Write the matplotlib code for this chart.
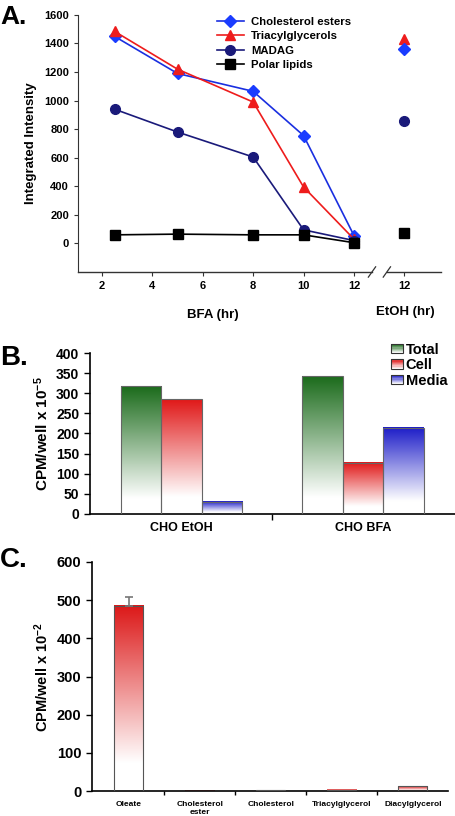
import numpy as np
import matplotlib
matplotlib.use("Agg")
import matplotlib.pyplot as plt
from matplotlib.patches import Rectangle
from matplotlib.legend_handler import HandlerBase
from matplotlib.colors import to_rgb

plt.rcParams['font.family'] = ['Liberation Sans', 'DejaVu Sans']
plt.rcParams['font.weight'] = 'bold'
plt.rcParams['mathtext.fontset'] = 'custom'
plt.rcParams['mathtext.bf'] = 'Liberation Sans:bold'
plt.rcParams['mathtext.rm'] = 'Liberation Sans:bold'
plt.rcParams['mathtext.default'] = 'bf'

# ---------------- Data ----------------
# Panel A
bfa_hours = [2.5, 5, 8, 10, 12]
etoh_hour_pos = 14          # plotted position of the EtOH 12 hr point (after axis break)
chol_esters = [1450, 1190, 1065, 755, 55]
triacylglycerols = [1485, 1220, 990, 395, 30]
madag = [940, 780, 605, 95, 20]
polar_lipids = [60, 65, 60, 60, 5]
etoh_chol_esters = 1360
etoh_triacylglycerols = 1430
etoh_madag = 860
etoh_polar_lipids = 70
a_xticks = [2, 4, 6, 8, 10, 12, 14]
a_xticklabels = ['2', '4', '6', '8', '10', '12', '12']

# Panel B
b_categories = ['CHO EtOH', 'CHO BFA']
b_total = [317, 342]
b_cell = [285, 127]
b_media = [31, 214]

# Panel C
c_categories = ['Oleate', 'Cholesterol\nester', 'Cholesterol', 'Triacylglycerol', 'Diacylglycerol']
c_values = [485, 0.5, 2, 4, 12]
c_err_up = [23, 0, 0, 0, 0]

fig = plt.figure(figsize=(4.56, 8.16), dpi=100)


def gradient_bar(ax, x0, w, h, color, white_frac=0.15, edge='#666666', lw=0.8):
    c = np.array(to_rgb(color))
    n = 256
    t = np.linspace(0, 1, n)
    f = np.clip((t - white_frac) / (1 - white_frac), 0, 1)
    img = (1 - f)[:, None, None] * np.ones(3) + f[:, None, None] * c
    img = np.repeat(img, 2, axis=1)
    ax.imshow(img, extent=[x0, x0 + w, 0, h], origin='lower', aspect='auto',
              interpolation='bilinear', zorder=2)
    ax.add_patch(Rectangle((x0, 0), w, h, fill=False, edgecolor=edge, lw=lw, zorder=3))


class GradHandler(HandlerBase):
    def __init__(self, color):
        super().__init__()
        self.color = np.array(to_rgb(color))

    def create_artists(self, legend, orig_handle, xdescent, ydescent, width, height, fontsize, trans):
        arts = []
        n = 8
        for i in range(n):
            f = i / (n - 1)
            col = (1 - f) * np.ones(3) + f * self.color
            r = Rectangle((-xdescent, -ydescent + height * i / n), width, height / n,
                          facecolor=col, edgecolor='none', transform=trans)
            arts.append(r)
        arts.append(Rectangle((-xdescent, -ydescent), width, height, fill=False,
                              edgecolor='#333333', lw=0.8, transform=trans))
        return arts


# ---------------- Panel A ----------------
axA = fig.add_axes([0.171, 0.6667, 0.796, 0.315])
ce_col = '#1a2fe0'
tg_col = '#ee1c1c'
md_col = '#1a1a7a'
pl_col = '#000000'
axA.plot(bfa_hours, chol_esters, color=ce_col, marker='D', ms=6.5, lw=1.2,
         markerfacecolor='#1a3cff', markeredgecolor='#1a3cff', label='Cholesterol esters', zorder=4)
axA.plot(bfa_hours, triacylglycerols, color=tg_col, marker='^', ms=7.5, lw=1.2,
         label='Triacylglycerols', zorder=4)
axA.plot(bfa_hours, madag, color=md_col, marker='o', ms=7, lw=1.2, label='MADAG', zorder=4)
axA.plot(bfa_hours, polar_lipids, color=pl_col, marker='s', ms=6.5, lw=1.2, label='Polar lipids', zorder=4)
axA.plot([etoh_hour_pos], [etoh_triacylglycerols], color=tg_col, marker='^', ms=7.5, ls='none')
axA.plot([etoh_hour_pos], [etoh_chol_esters], color='#1a3cff', marker='D', ms=6.5, ls='none')
axA.plot([etoh_hour_pos], [etoh_madag], color=md_col, marker='o', ms=7, ls='none')
axA.plot([etoh_hour_pos], [etoh_polar_lipids], color=pl_col, marker='s', ms=6.5, ls='none')

axA.set_xlim(1.05, 15.45)
axA.set_ylim(-200, 1600)
axA.set_yticks(np.arange(0, 1601, 200))
axA.set_xticks(a_xticks)
axA.set_xticklabels(a_xticklabels)
axA.tick_params(axis='both', labelsize=8, length=3, width=0.8, color='#333333')
for lab in axA.get_xticklabels() + axA.get_yticklabels():
    lab.set_fontweight('bold')
axA.spines['top'].set_visible(False)
axA.spines['right'].set_visible(False)
axA.spines['bottom'].set_visible(False)
axA.spines['left'].set_color('#333333')
# broken bottom axis
b1, b2 = 0.81, 0.851
axA.plot([0, b1], [0, 0], transform=axA.transAxes, color='#333333', lw=1, clip_on=False)
axA.plot([b2, 1.0], [0, 0], transform=axA.transAxes, color='#333333', lw=1, clip_on=False)
dx, dy = 0.01, 0.02
for b in (b1, b2):
    axA.plot([b - dx, b + dx], [-dy, dy], transform=axA.transAxes, color='#333333', lw=0.9, clip_on=False)
axA.set_ylabel('Integrated Intensity', fontsize=9.5, fontweight='bold', labelpad=5)
axA.legend(loc='upper left', bbox_to_anchor=(0.37, 1.01), frameon=False, fontsize=8.2,
           handlelength=2.4, labelspacing=0.38, handletextpad=0.6, borderaxespad=0)

fig.text(0.467, 1 - 315 / 816, 'BFA (hr)', ha='center', va='center', fontsize=9.5, fontweight='bold')
fig.text(0.888, 1 - 312 / 816, 'EtOH (hr)', ha='center', va='center', fontsize=9.5, fontweight='bold')
fig.text(0.0, 1 - 17 / 816, 'A.', ha='left', va='center', fontsize=19, fontweight='bold')

# ---------------- Panel B ----------------
axB = fig.add_axes([0.197, 0.3701, 0.80, 0.1973])
bw = 0.223
cols_B = ['#1b6b1b', '#e01818', '#1c1cc8']
for i in range(len(b_categories)):
    gradient_bar(axB, i - 1.5 * bw, bw, b_total[i], cols_B[0], white_frac=0.12)
    gradient_bar(axB, i - 0.5 * bw, bw, b_cell[i], cols_B[1], white_frac=0.15)
    gradient_bar(axB, i + 0.5 * bw, bw, b_media[i], cols_B[2], white_frac=0.15)
axB.set_xlim(-0.505, 1.505)
axB.set_ylim(0, 400)
axB.set_yticks(np.arange(0, 401, 50))
axB.set_xticks(range(len(b_categories)))
axB.set_xticklabels(b_categories)
axB.set_xticks([0.5], minor=True)
axB.tick_params(axis='x', which='major', length=0, labelsize=9, pad=6)
axB.tick_params(axis='x', which='minor', length=4, width=1)
axB.tick_params(axis='y', labelsize=10, length=4, width=1)
for lab in axB.get_xticklabels() + axB.get_yticklabels():
    lab.set_fontweight('bold')
axB.spines['top'].set_visible(False)
axB.spines['right'].set_visible(False)
axB.spines['left'].set_linewidth(1.2)
axB.spines['bottom'].set_linewidth(1.2)
axB.set_ylabel(r'CPM/well x 10$^{-5}$', fontsize=11, fontweight='bold', labelpad=4)
handles = [Rectangle((0, 0), 1, 1) for _ in range(3)]
axB.legend(handles, ['Total', 'Cell', 'Media'], loc='upper left', bbox_to_anchor=(0.81, 1.1),
           frameon=False, fontsize=10.5, handlelength=0.8, handleheight=0.65, handletextpad=0.2,
           labelspacing=0.1, borderaxespad=0,
           handler_map={handles[0]: GradHandler(cols_B[0]), handles[1]: GradHandler(cols_B[1]),
                        handles[2]: GradHandler(cols_B[2])})
fig.text(0.0, 1 - 358 / 816, 'B.', ha='left', va='center', fontsize=20, fontweight='bold')

# ---------------- Panel C ----------------
axC = fig.add_axes([0.2018, 0.0306, 0.780, 0.2807])
cw = 0.41
for i, v in enumerate(c_values):
    gradient_bar(axC, i - cw / 2, cw, v, '#dc1818', white_frac=0.15, edge='#555555')
axC.errorbar([0], [c_values[0]], yerr=[[0], [c_err_up[0]]], fmt='none', ecolor='#777777',
             capsize=3, elinewidth=1.2, capthick=1.2, zorder=4)
axC.set_xlim(-0.52, 4.49)
axC.set_ylim(0, 600)
axC.set_yticks(np.arange(0, 601, 100))
axC.set_xticks(range(len(c_categories)))
axC.set_xticklabels(c_categories)
axC.set_xticks([0.5, 1.5, 2.5, 3.5], minor=True)
axC.tick_params(axis='x', which='major', length=0, labelsize=6, pad=7)
axC.tick_params(axis='x', which='minor', length=3, width=1)
axC.tick_params(axis='y', labelsize=10.5, length=4, width=1)
for lab in axC.get_xticklabels() + axC.get_yticklabels():
    lab.set_fontweight('bold')
axC.spines['top'].set_visible(False)
axC.spines['right'].set_visible(False)
axC.spines['left'].set_linewidth(1.2)
axC.spines['bottom'].set_linewidth(1.2)
axC.set_ylabel(r'CPM/well x 10$^{-2}$', fontsize=10.5, fontweight='bold', labelpad=4)
fig.text(0.0, 1 - 560 / 816, 'C.', ha='left', va='center', fontsize=20, fontweight='bold')

fig.savefig('out.png', dpi=100)
